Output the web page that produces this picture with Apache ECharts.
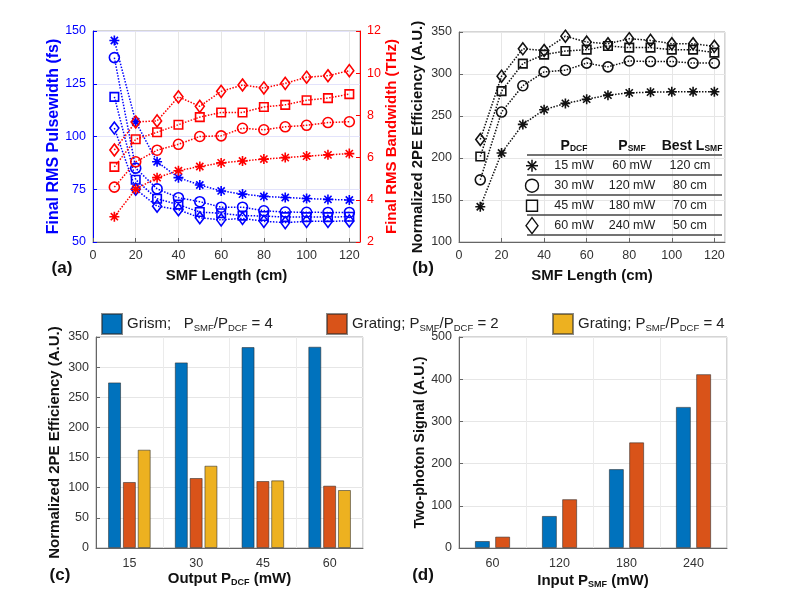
<!DOCTYPE html>
<html><head><meta charset="utf-8">
<script src="https://cdn.jsdelivr.net/npm/echarts@6/dist/echarts.min.js"></script>
<style>html,body{margin:0;padding:0;background:#fff}#c{width:792px;height:606px}</style>
</head><body><div id="c"></div>
<script>
// ---------- data ----------
const smfLength = [10,20,30,40,50,60,70,80,90,100,110,120];
// (a) pulsewidth (fs), left axis
const pwStar    = [145.5,107,88,80.5,77,74.2,72.7,71.6,71.1,70.6,70.2,69.9];
const pwCircle  = [137.4,85,75.2,71,69.1,66.5,66.5,64.8,64.2,64.1,64,64];
const pwSquare  = [118.8,79.5,70.5,67.7,64.2,63.6,62.5,62.3,61.8,61.8,61.8,62];
const pwDiamond = [104,75,67,65.3,61.5,60.5,61.2,59.8,59.2,59.8,59.8,60];
// (a) bandwidth (THz), right axis
const bwStar    = [3.2,4.5,5.05,5.38,5.58,5.75,5.84,5.93,6.0,6.07,6.13,6.19];
const bwCircle  = [4.6,5.8,6.35,6.63,7.0,7.03,7.39,7.32,7.46,7.53,7.66,7.7];
const bwSquare  = [5.56,6.87,7.2,7.56,7.92,8.14,8.14,8.4,8.5,8.72,8.82,9.01];
const bwDiamond = [6.36,7.69,7.74,8.88,8.43,9.14,9.44,9.3,9.52,9.81,9.88,10.12];
// (b) normalized 2PE efficiency
const effStar    = [142,206,240,257.5,265,270,274.8,277.5,278.4,278.8,278.8,278.8];
const effCircle  = [174,254.7,286,302.5,304.5,313,308.5,315.5,314.8,314.8,313,313];
const effSquare  = [201.7,279.6,312.4,323.1,327.3,329,333.4,331.4,331.4,329,329,325.5];
const effDiamond = [222,297.4,330,328,345,338,336,342,340,336,336,333];
// (c)
const pdcfCats = ['15','30','45','60'];
const cGrism   = [274.7,307.9,333.3,333.9];
const cGrat2   = [109.5,116.1,111.1,103.4];
const cGrat4   = [163.1,136.5,112.2,96.2];
// (d)
const psmfCats = ['60','120','180','240'];
const dGrism   = [16.6,76,187,334.4];
const dGrating = [27,115.7,250.4,412];
// table in (b)
const tabPdcf = ['15 mW','30 mW','45 mW','60 mW'];
const tabPsmf = ['60 mW','120 mW','180 mW','240 mW'];
const tabBest = ['120 cm','80 cm','70 cm','50 cm'];

// ---------- styling ----------
const FONT = 'Liberation Sans, Arial, Helvetica, sans-serif';
const BLUE = '#0000FF', RED = '#FF0000';
const C1 = '#0072BD', C2 = '#D95319', C3 = '#EDB120';
const AX = '#666', TXT = '#333';
const ASTER = 'path://M-1 0L1 0M0 -1L0 1M-0.72 -0.72L0.72 0.72M-0.72 0.72L0.72 -0.72';
const pairs = ys => smfLength.map((x,i)=>[x,ys[i]]);

function lineSeries(name, ys, color, symbol, size, xi, yi){
  return {
    name, type:'line', xAxisIndex:xi, yAxisIndex:yi, data: pairs(ys),
    symbol, symbolSize:size, showSymbol:true, animation:false,
    lineStyle:{color, width:1.5, type:'dotted'},
    itemStyle:{color:'rgba(0,0,0,0)', borderColor:color, borderWidth:1.6},
    emphasis:{disabled:true}
  };
}
function valX(grid){
  return {type:'value', gridIndex:grid, min:0, max:125, interval:20,
    axisLine:{show:true, lineStyle:{color:AX}}, axisTick:{inside:true, length:4, lineStyle:{color:AX}},
    axisLabel:{color:TXT, fontSize:12.5, fontFamily:FONT, showMaxLabel:false, margin:7},
    splitLine:{show:true, lineStyle:{color:'#e6e6e6'}},
    name:'SMF Length (cm)', nameLocation:'middle', nameGap:26,
    nameTextStyle:{color:'#111', fontSize:15, fontWeight:'bold', fontFamily:FONT}};
}
function valY(grid, min, max, interval, name, gap, color, pos, split, fs){
  return {type:'value', gridIndex:grid, min, max, interval, position:pos||'left',
    axisLine:{show:true, lineStyle:{color:color||AX}}, axisTick:{show:true, inside:true, length:4, lineStyle:{color:color||AX}},
    axisLabel:{color:color||TXT, fontSize:12.5, fontFamily:FONT, margin:7},
    splitLine:{show:split!==false, lineStyle:{color: color===BLUE ? '#e3e3fb' : '#e6e6e6'}},
    name, nameLocation:'middle', nameGap:gap, nameRotate:90,
    nameTextStyle:{color: color || '#111', fontSize:fs||15, fontWeight:'bold', fontFamily:FONT}};
}
function catX(grid, cats, nameRich, gap){
  return {type:'category', gridIndex:grid, data:cats,
    axisLine:{show:true, lineStyle:{color:AX}}, axisTick:{show:false},
    axisLabel:{color:TXT, fontSize:12.5, fontFamily:FONT, margin:9},
    splitLine:{show:true, interval:0, lineStyle:{color:'#ebebeb'}},
    name:nameRich, nameLocation:'middle', nameGap:gap,
    nameTextStyle:{color:'#111', fontSize:15, fontWeight:'bold', fontFamily:FONT,
      rich:{n:{fontSize:15, fontWeight:'bold', fontFamily:FONT, color:'#111'},
            s:{fontSize:9, fontWeight:'bold', fontFamily:FONT, color:'#111', verticalAlign:'bottom', padding:[8,0,0,0]}}}};
}
function bar(name, data, color, xi, yi, w, gap){
  return {name, type:'bar', xAxisIndex:xi, yAxisIndex:yi, data, barWidth:w, barGap:gap,
    itemStyle:{color, borderColor:'rgba(40,40,40,0.55)', borderWidth:1}, animation:false, emphasis:{disabled:true}};
}
const gridBox = {show:true, borderColor:'#aaa', borderWidth:1, backgroundColor:'#fff'};

const legendRich = {
  n:{fontSize:15, fontFamily:FONT, color:'#222'},
  s:{fontSize:9.5, fontFamily:FONT, color:'#222', verticalAlign:'bottom', padding:[8,0,0,0]}
};
const legendFmt = {
  'Grism; Psmf/Pdcf = 4':'{n|Grism;   P}{s|SMF}{n|/P}{s|DCF}{n| = 4}',
  'Grating; Psmf/Pdcf = 2':'{n|Grating; P}{s|SMF}{n|/P}{s|DCF}{n| = 2}',
  'Grating; Psmf/Pdcf = 4':'{n|Grating; P}{s|SMF}{n|/P}{s|DCF}{n| = 4}'
};
function legendAt(name, left){
  return {data:[name], left, top:308, itemWidth:20, itemHeight:20, icon:'rect', itemGap:0,
    selectedMode:false, formatter:n=>legendFmt[n], textStyle:{rich:legendRich}};
}

// ---------- table graphic ----------
const tX = [574, 632, 690], sx = 532, rowY = [165.7,185.7,205.7,225.7];
const graphic = [];
[155,175,195,215,235].forEach(y=>graphic.push({type:'line', shape:{x1:527,y1:y,x2:722,y2:y}, style:{stroke:'#444', lineWidth:1.3}, z:100}));
const hdrRich = {b:{fontSize:14, fontWeight:'bold', fontFamily:FONT, fill:'#111'}, s:{fontSize:8.5, fontWeight:'bold', fontFamily:FONT, fill:'#111', verticalAlign:'bottom', padding:[6,0,0,0]}};
[['{b|P}{s|DCF}',tX[0]],['{b|P}{s|SMF}',tX[1]],['{b|Best L}{s|SMF}',tX[2]+2]].forEach(([t,x])=>{
  graphic.push({type:'text', x, y:146, z:100, style:{text:t, rich:hdrRich, align:'center', verticalAlign:'middle'}});
});
rowY.forEach((y,i)=>{
  [tabPdcf[i],tabPsmf[i],tabBest[i]].forEach((t,j)=>{
    graphic.push({type:'text', x:tX[j], y, z:100, style:{text:t, fontSize:12.5, fontFamily:FONT, fill:'#222', align:'center', verticalAlign:'middle'}});
  });
});
// table symbols
const y0 = rowY[0];
[[-6,0,6,0],[0,-6,0,6],[-4.3,-4.3,4.3,4.3],[-4.3,4.3,4.3,-4.3]].forEach(([a,b,c,d])=>{
  graphic.push({type:'line', z:100, shape:{x1:sx+a,y1:y0+b,x2:sx+c,y2:y0+d}, style:{stroke:'#111', lineWidth:1.5}});
});
graphic.push({type:'circle', z:100, shape:{cx:sx, cy:rowY[1], r:6.5}, style:{stroke:'#111', lineWidth:1.4, fill:'#fff'}});
graphic.push({type:'rect', z:100, shape:{x:sx-5.5, y:rowY[2]-5.5, width:11, height:11}, style:{stroke:'#111', lineWidth:1.4, fill:'#fff'}});
graphic.push({type:'polygon', z:100, shape:{points:[[sx,rowY[3]-8],[sx+6,rowY[3]],[sx,rowY[3]+8],[sx-6,rowY[3]]]}, style:{stroke:'#111', lineWidth:1.4, fill:'#fff'}});
// panel labels
[['(a)',62,268],['(b)',423,268],['(c)',60,575],['(d)',423,575]].forEach(([t,x,y])=>{
  graphic.push({type:'text', x, y, style:{text:t, fontSize:17, fontWeight:'bold', fontFamily:FONT, fill:'#111', align:'center', verticalAlign:'middle'}});
});

const option = {
  animation:false,
  textStyle:{fontFamily:FONT},
  grid:[
    Object.assign({left:93, top:31, width:267, height:211}, gridBox),
    Object.assign({left:459, top:32, width:266, height:210}, gridBox),
    Object.assign({left:96, top:337, width:267, height:211}, gridBox),
    Object.assign({left:459, top:337, width:268, height:211}, gridBox)
  ],
  xAxis:[
    valX(0), valX(1),
    catX(2, pdcfCats, '{n|Output P}{s|DCF}{n| (mW)}', 22),
    catX(3, psmfCats, '{n|Input P}{s|SMF}{n| (mW)}', 24)
  ],
  yAxis:[
    valY(0, 50, 150, 25, 'Final RMS Pulsewidth (fs)', 30, BLUE, 'left', true, 16),
    valY(0, 2, 12, 2, 'Final RMS Bandwidth (THz)', 15, RED, 'right', false, 15),
    valY(1, 100, 350, 50, 'Normalized 2PE Efficiency (A.U.)', 34),
    valY(2, 0, 350, 50, 'Normalized 2PE Efficiency (A.U.)', 34),
    valY(3, 0, 500, 100, 'Two-photon Signal (A.U.)', 27, null, 'left', true, 14.5)
  ],
  legend:[
    legendAt('Grism; Psmf/Pdcf = 4', 96),
    legendAt('Grating; Psmf/Pdcf = 2', 321),
    legendAt('Grating; Psmf/Pdcf = 4', 547)
  ],
  graphic,
  series:[
    lineSeries('pw15', pwStar, BLUE, ASTER, 10, 0, 0),
    lineSeries('pw30', pwCircle, BLUE, 'circle', 10, 0, 0),
    lineSeries('pw45', pwSquare, BLUE, 'rect', 8.5, 0, 0),
    lineSeries('pw60', pwDiamond, BLUE, 'diamond', [9,12], 0, 0),
    lineSeries('bw15', bwStar, RED, ASTER, 10, 0, 1),
    lineSeries('bw30', bwCircle, RED, 'circle', 10, 0, 1),
    lineSeries('bw45', bwSquare, RED, 'rect', 8.5, 0, 1),
    lineSeries('bw60', bwDiamond, RED, 'diamond', [9,12], 0, 1),
    lineSeries('e15', effStar, '#111', ASTER, 10, 1, 2),
    lineSeries('e30', effCircle, '#111', 'circle', 10, 1, 2),
    lineSeries('e45', effSquare, '#111', 'rect', 8.5, 1, 2),
    lineSeries('e60', effDiamond, '#111', 'diamond', [9,12], 1, 2),
    bar('Grism; Psmf/Pdcf = 4', cGrism, C1, 2, 3, 13, '14%'),
    bar('Grating; Psmf/Pdcf = 2', cGrat2, C2, 2, 3, 13, '14%'),
    bar('Grating; Psmf/Pdcf = 4', cGrat4, C3, 2, 3, 13, '14%'),
    bar('d grism', dGrism, C1, 3, 4, 15, '35%'),
    bar('d grating', dGrating, C2, 3, 4, 15, '35%')
  ]
};
const chart = echarts.init(document.getElementById('c'), null, {renderer:'canvas'});
chart.setOption(option);
</script></body></html>
